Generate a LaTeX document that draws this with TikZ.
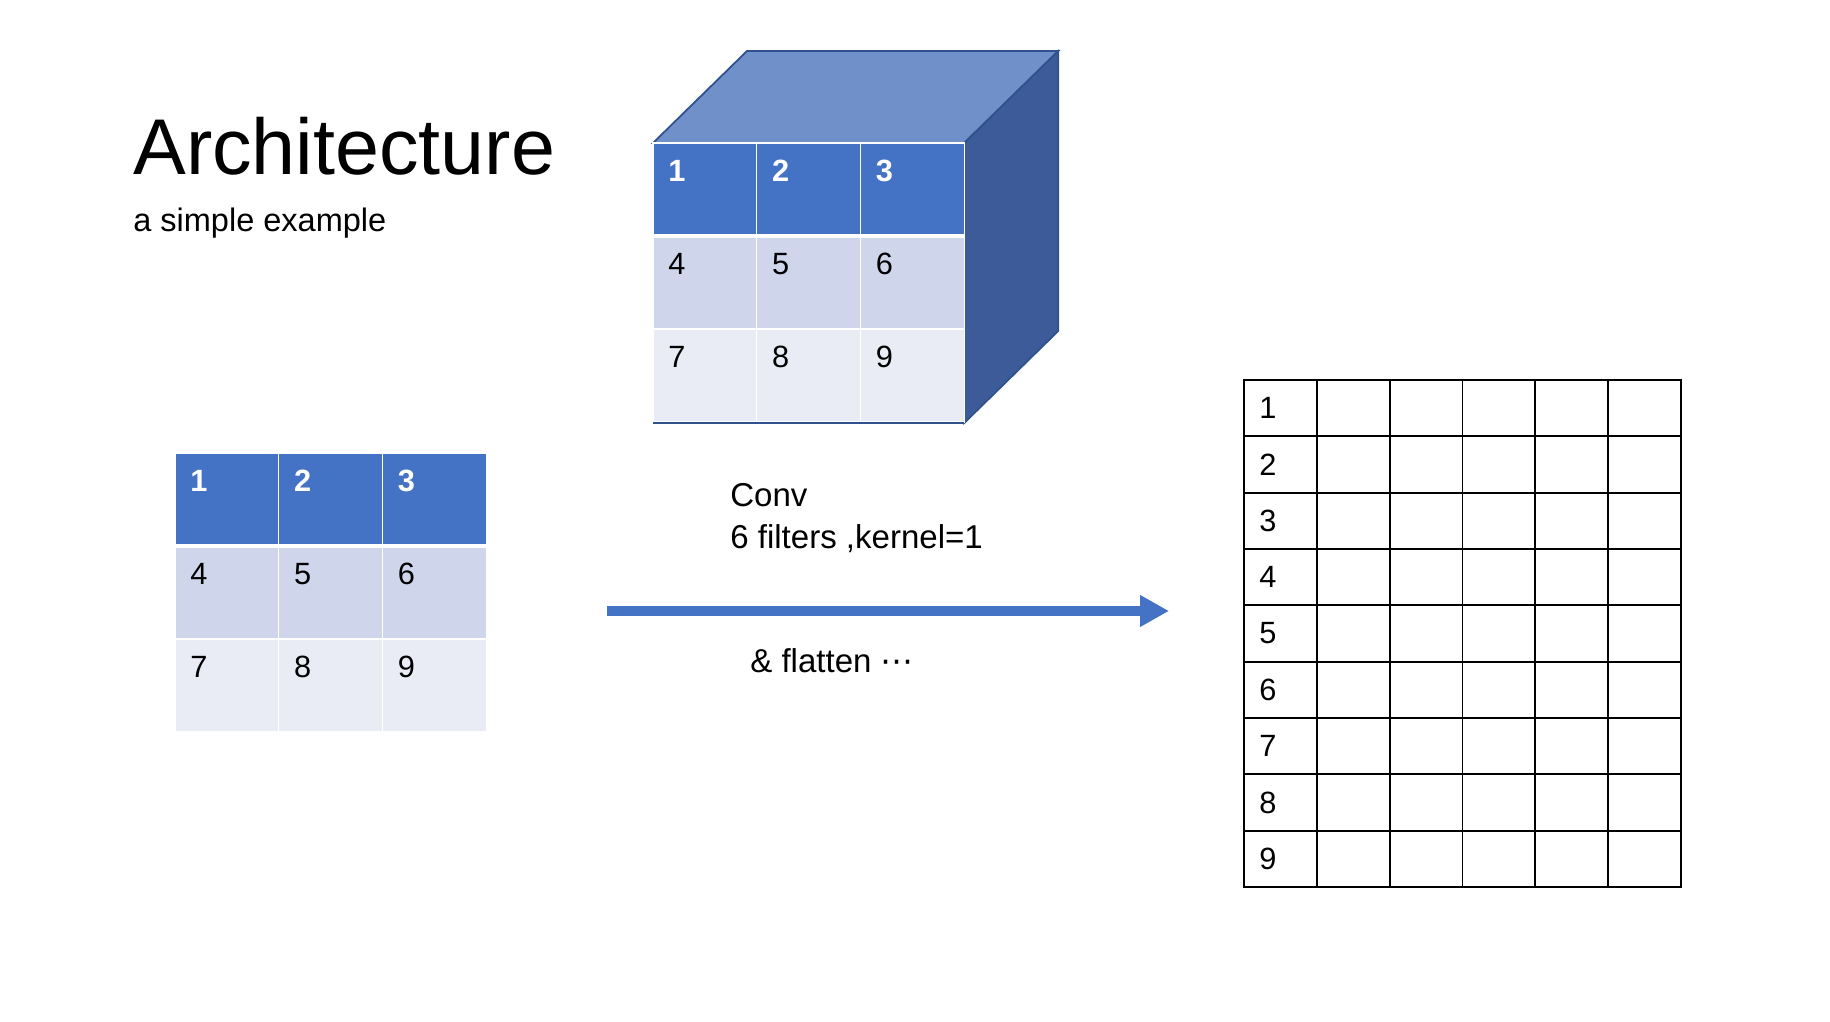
\documentclass[tikz,border=0pt]{standalone}
\usepackage{fontspec}
\setmainfont{Liberation Sans}
\newfontfamily\symfont{DejaVu Sans}
\usetikzlibrary{arrows.meta}

\definecolor{hdrblue}{HTML}{4472C4}
\definecolor{rowmid}{HTML}{CFD5EA}
\definecolor{rowlight}{HTML}{E9EBF5}
\definecolor{cubetop}{HTML}{7090CA}
\definecolor{cubeside}{HTML}{3C5B98}
\definecolor{cubeedge}{HTML}{2F528F}

\tikzset{
  numtext/.style={inner sep=0pt,font=\fontsize{17.5}{21}\selectfont},
  gridline/.style={line width=1.1pt,line cap=rect},
  convarrow/.style={hdrblue,line width=5.7pt,-{Triangle[length=0.58cm,width=0.6cm]}},
  labeltext/.style={inner sep=0pt,anchor=base west,font=\fontsize{18.8}{22}\selectfont}
}

\begin{document}
\begin{tikzpicture}

\useasboundingbox (0,0) rectangle (36.6,20.44);

% title
        \node (title) [inner sep=0pt,anchor=base west,font=\fontsize{45}{50}\selectfont] at (2.66,16.94) {Architecture};
        \node (subtitle) [inner sep=0pt,anchor=base west,font=\fontsize{18.5}{22}\selectfont] at (2.66,15.8) {a simple example};

% cube behind the second table
        \fill[cubetop,draw=cubeedge,line width=1pt] (13.06,17.58) -- (14.94,19.42) -- (21.165,19.42) -- (19.285,17.58) -- cycle;
        \fill[cubeside,draw=cubeedge,line width=1pt] (19.285,17.58) -- (21.165,19.42) -- (21.165,13.82) -- (19.285,11.98) -- cycle;

% the two 3x3 tables
        \foreach \ox/\oy/\tbl in {3.5/11.38/in,13.06/17.58/cube}{
            \foreach \r/\cellc/\txtc/\wt in {0/hdrblue/white/\bfseries,1/rowmid/black/\mdseries,2/rowlight/black/\mdseries}{
                \foreach \c in {0,1,2}{
                    \pgfmathtruncatemacro\cellnum{3*\r+\c+1}
                    \filldraw[fill=\cellc,draw=white,line width=0.8pt] (\ox+\c*2.075,\oy-\r*1.86) rectangle ++(2.075,-1.86);
                    \node (\tbl-\cellnum) [numtext,text=\txtc,anchor=north west,font={\fontsize{17.5}{21}\selectfont\wt}] at (\ox+\c*2.075+0.3,\oy-\r*1.86-0.34) {\cellnum};
                }
            }
            \draw[white,line width=2.8pt] (\ox,\oy-1.86) -- ++(6.225,0);
        }
        \draw[cubeedge,line width=1.2pt] (13.06,11.98) -- (19.285,11.98);

% conv arrow
        \coordinate (convin) at (12.14,8.22);
        \coordinate (convout) at (23.38,8.22);
        \draw[convarrow] (convin) -- (convout);
        \node (convlabel) [labeltext] at (14.6,10.3) {Conv};
        \node (filterlabel) [labeltext] at (14.6,9.46) {6 filters ,kernel=1};
        \node (flattenlabel) [labeltext] at (15.0,6.98) {\& flatten {\symfont ⋯}};

% flattened output 9x6
        \foreach \c in {0,...,6}
            \draw[gridline] (24.88+\c*1.4567,2.7) -- ++(0,10.14);
        \foreach \r in {0,...,9}
            \draw[gridline] (24.88,2.7+\r*1.1267) -- ++(8.74,0);
        \foreach \r in {1,...,9}
            \node (out-\r) [numtext,anchor=west] at (25.18,12.84-\r*1.1267+0.5633) {\r};

\end{tikzpicture}
\end{document}
